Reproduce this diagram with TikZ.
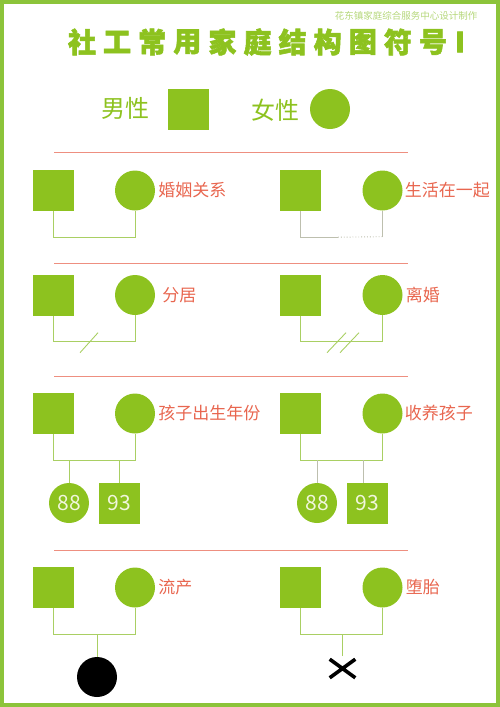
\documentclass[tikz,border=0pt]{standalone}
\usepackage{fontspec}
\usepackage{xcolor}
\usetikzlibrary{positioning,calc,shapes.misc}

\newfontfamily\cjk{Noto Sans CJK SC}
\newfontfamily\cjkhead[BoldFeatures={FakeBold=2}]{Noto Sans CJK SC}
\newcommand\headfont{\cjkhead\bfseries\fontsize{28}{28}\selectfont}
\newcommand\legendfont{\cjk\fontsize{24}{24}\selectfont}
\newcommand\tagfont{\cjk\fontsize{17}{17}\selectfont}
\newcommand\kidfont{\cjk\fontsize{21}{21}\selectfont}
\newcommand\creditfont{\cjk\fontsize{9.5}{9.5}\selectfont}

\definecolor{leaf}{HTML}{8DC21F}
\definecolor{frame}{HTML}{8CC43A}
\definecolor{tagred}{HTML}{E8664F}
\definecolor{rulered}{HTML}{EE8F80}
\definecolor{stem}{HTML}{A9CF63}
\definecolor{faintgray}{HTML}{BDBFAE}
\definecolor{cream}{HTML}{F1F6DC}
\definecolor{pale}{HTML}{B5D77A}

\begin{document}
\begin{tikzpicture}[x=1pt,y=-1pt,
    male/.style={fill=leaf, minimum size=41pt, inner sep=0pt},
    female/.style={circle, fill=leaf, minimum size=40pt, inner sep=0pt},
    kid/.style={text=cream, font=\kidfont},
    tag/.style={text=tagred, font=\tagfont, inner sep=1pt},
    link/.style={stem, line width=0.9pt},
    faint/.style={faintgray, line width=0.6pt},
    hline/.style={rulered, line width=0.8pt}]
    \useasboundingbox (0,0) rectangle (500,707);
    \draw[frame, line width=8pt] (0,0) rectangle (500,707);

    % Header
    \node[text=pale, font=\creditfont] (credit) at (406,16) {花东镇家庭综合服务中心设计制作};
    \foreach \c [count=\i from 0] in {社,工,常,用,家,庭,结,构,图,符,号} {
        \node[text=leaf, font=\headfont] (t\i) at (82+35.1*\i,42) {\c};
    }
    \node[text=leaf, font=\headfont] (tI) at (460,42) {I};

    % Legend
    \node[text=leaf, font=\legendfont] (mtxt) at (125,108) {男性};
    \node[male] (msym) at (188.5,109) {};
    \node[text=leaf, font=\legendfont] (ftxt) at (275,110) {女性};
    \node[female] (fsym) at (330,109) {};

    % Separators
    \foreach \y in {152,263,376,550} {
        \draw[hline] (54,\y) -- (408,\y);
    }

    % Parents of every row
    \foreach \r/\y in {a/190.5, b/295, c/413.5, d/587.5} {
        \node[male] (\r m1) at (53,\y) {};
        \node[female] (\r f1) at (135,\y) {};
        \node[male] (\r m2) at (300,\y) {};
        \node[female] (\r f2) at (382.5,\y) {};
    }

    % Marriage / living together
    \node[tag, right=2pt of af1] (la1) {婚姻关系};
    \node[tag, right=1pt of af2] (la2) {生活在一起};
    \draw[link] (am1.south) -- ++(0,26) -| (af1.south);
    \draw[faint] (am2.south) -- ++(0,26) coordinate (aL2) -- ++(38,0);
    \draw[faint] (af2.south) -- ++(0,26) coordinate (aR2);
    \draw[faint, line width=0.9pt, dotted] ($(aL2)+(38,0)$) -- (aR2);

    % Separation / divorce
    \node[tag, right=6pt of bf1] (lb1) {分居};
    \node[tag, right=2pt of bf2] (lb2) {离婚};
    \draw[link] (bm1.south) -- ++(0,26) coordinate (bL1) -| (bf1.south);
    \draw[link] ($(bL1)+(27,11)$) -- ++(18,-20);
    \draw[link] (bm2.south) -- ++(0,26) coordinate (bL2) -| (bf2.south);
    \draw[link] ($(bL2)+(27,11)$) -- ++(19,-20);
    \draw[link] ($(bL2)+(40,11)$) -- ++(19,-20);

    % Children with birth year / adopted
    \node[tag, right=2pt of cf1] (lc1) {孩子出生年份};
    \node[tag, right=1pt of cf2] (lc2) {收养孩子};
    \draw[link] (cm1.south) -- ++(0,26) coordinate (cL1) -| (cf1.south);
    \node[female, kid] (ck1) at (69,503) {88};
    \node[male, kid] (ck2) at (119.5,503.5) {93};
    \draw[link] (ck1.north) -- (ck1.north |- cL1);
    \draw[link] (ck2.north) -- (ck2.north |- cL1);
    \draw[link] (cm2.south) -- ++(0,26) coordinate (cL2) -| (cf2.south);
    \node[female, kid] (ck3) at (317,503) {88};
    \node[male, kid] (ck4) at (367.5,503.5) {93};
    \draw[faint] (ck3.north) -- (ck3.north |- cL2);
    \draw[faint] ($(ck4.north)+(-4,0)$) -- ($(ck4.north |- cL2)+(-4,0)$);

    % Miscarriage / abortion
    \node[tag, right=2pt of df1] (ld1) {流产};
    \node[tag, right=2pt of df2] (ld2) {堕胎};
    \draw[link] (dm1.south) -- ++(0,26) coordinate (dL1) -| (df1.south);
    \node[circle, fill=black, minimum size=40pt, inner sep=0pt] (dk1) at (97,677) {};
    \draw[link] (dk1.north) -- (dk1.north |- dL1);
    \draw[link] (dm2.south) -- ++(0,26) coordinate (dL2) -| (df2.south);
    \node[cross out, draw=black, line width=3.6pt, minimum width=22pt, minimum height=15pt, inner sep=0pt] (dk2) at (342.5,668.5) {};
    \draw[link] ($(dk2.north)+(0,-3)$) -- (dk2.north |- dL2);
\end{tikzpicture}
\end{document}
